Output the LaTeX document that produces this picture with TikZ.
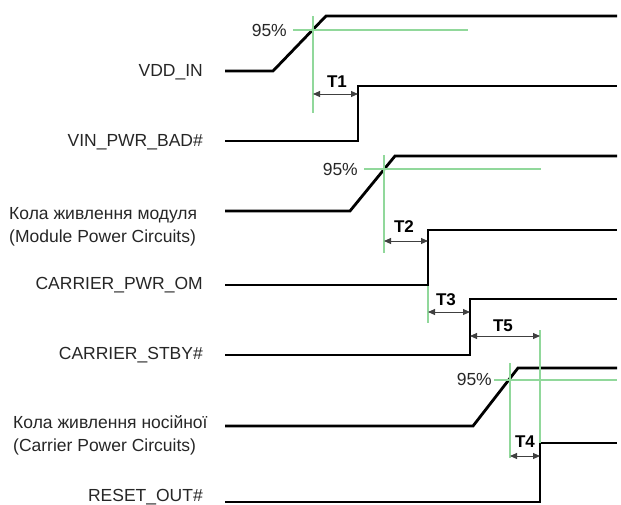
\documentclass[tikz,border=0pt]{standalone}
\usepackage{fontspec}
\setmainfont{Liberation Sans}
\usepackage{xcolor}
\usetikzlibrary{arrows.meta,positioning}
\definecolor{lvlgreen}{RGB}{145,216,155}
\tikzset{
  wave/.style  ={line width=2.8pt,black,line join=miter},
  guide/.style ={line width=1.3pt,lvlgreen},
  span/.style  ={{Triangle[length=7pt,width=6pt]}-{Triangle[length=7pt,width=6pt]},line width=0.9pt,black!75},
  sname/.style ={anchor=east,inner sep=0pt,text=black!85},
  gname/.style ={anchor=west,inner sep=0pt,align=left,text=black!85},
  pct/.style   ={anchor=east,inner sep=0pt,text=black!85},
  tl/.style    ={inner sep=0pt,font=\fontsize{17}{19}\selectfont\bfseries},
}

\begin{document}
\begin{tikzpicture}[x=1pt,y=-1pt,font=\fontsize{17.5}{23}\selectfont]
  \useasboundingbox (0,0) rectangle (621,504);
  % signal names
  \node[sname] (vdd) at (203,72) {VDD\_IN};
  \node[sname] (vin) at (203,142) {VIN\_PWR\_BAD\#};
  \node[gname] (mod) at (9,226.5) {Кола живлення модуля\\(Module Power Circuits)};
  \node[sname] (cpo) at (203,285) {CARRIER\_PWR\_OM};
  \node[sname] (stby) at (203,355) {CARRIER\_STBY\#};
  \node[gname] (car) at (13,435) {Кола живлення носійної\\(Carrier Power Circuits)};
  \node[sname] (rst) at (203,497) {RESET\_OUT\#};
  % step edges
  \coordinate (vinup) at (358,86);
  \coordinate (cpoup) at (428,230);
  \coordinate (stbyup) at (470,299);
  \coordinate (rstup) at (540,443);
  % waveforms
  \draw[wave] (225,71) -- (273,71) -- (326,16) -- (617,16);
  \draw[wave] (225,141) -| (vinup) -- (617,86);
  \draw[wave] (225,211) -- (350,211) -- (395,156) -- (617,156);
  \draw[wave] (225,285) -| (cpoup) -- (617,230);
  \draw[wave] (225,355) -| (stbyup) -- (617,299);
  \draw[wave] (225,426) -- (473,426) -- (518,368) -- (617,368);
  \draw[wave] (225,502) -| (rstup) -- (617,443);
  % 95% levels
  \coordinate (vdd95) at (313,30);
  \coordinate (mod95) at (384,169);
  \coordinate (car95) at (510,380);
  \draw[guide] (293,30) -- (468,30);
  \draw[guide] (vdd95 |- 0,16) -- (vdd95 |- 0,113);
  \draw[guide] (364,169) -- (541,169);
  \draw[guide] (mod95 |- 0,155) -- (mod95 |- 0,253);
  \draw[guide] (494,380) -- (617,380);
  \draw[guide] (car95 |- 0,363) -- (car95 |- 0,458);
  \draw[guide] (cpoup |- 0,286) -- (cpoup |- 0,323);
  \draw[guide] (rstup |- 0,330) -- (rstup);
  \node[pct] (p1) at (287,30) {95\%};
  \node[pct] (p2) at (358,169) {95\%};
  \node[pct] (p3) at (492,379) {95\%};
  % delays
  \draw[span] (vdd95 |- 0,94) -- (vinup |- 0,94);
  \node[tl] (t1) at (337,82) {T1};
  \draw[span] (mod95 |- 0,241) -- (cpoup |- 0,241);
  \node[tl] (t2) at (404,227) {T2};
  \draw[span] (cpoup |- 0,312) -- (stbyup |- 0,312);
  \node[tl] (t3) at (446,300) {T3};
  \draw[span] (stbyup |- 0,336) -- (rstup |- 0,336);
  \node[tl] (t5) at (503,326) {T5};
  \draw[span] (car95 |- 0,456) -- (rstup |- 0,456);
  \node[tl] (t4) at (525,442) {T4};
\end{tikzpicture}
\end{document}
